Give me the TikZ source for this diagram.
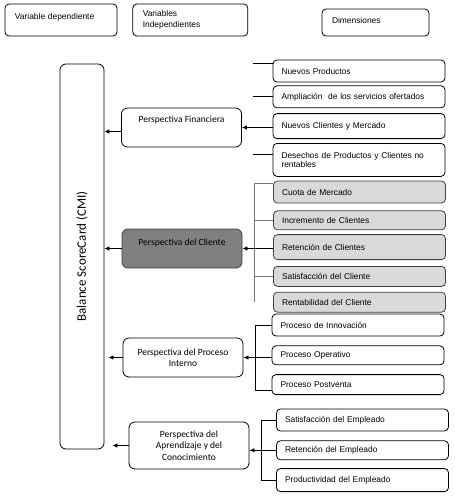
\documentclass[tikz,border=0pt]{standalone}
\usepackage{graphicx}
\usepackage{fontspec}
\setmainfont{Liberation Sans}
\newfontfamily\calibri{Carlito}
\usetikzlibrary{positioning,arrows.meta}
\definecolor{darkfill}{HTML}{808080}
\definecolor{lightfill}{HTML}{D9D9D9}
\definecolor{darkline}{HTML}{404040}
\definecolor{barline}{HTML}{777777}

\begin{document}
\begin{tikzpicture}[x=1pt, y=1pt, line width=0.8pt,
    box/.style={draw, rounded corners=4pt, inner ysep=0pt},
    head node/.style={box, align=left, inner xsep=10pt, font=\fontsize{8.4}{11}\selectfont},
    dim node/.style={box, text width=155pt, align=left, inner xsep=8.5pt, font=\fontsize{8.4}{9.6}\selectfont},
    cli node/.style={dim node, fill=lightfill, draw=darkline},
    persp node/.style={box, rounded corners=6pt, minimum width=120pt, minimum height=39pt, align=center, font=\calibri\fontsize{9.5}{11.5}\selectfont},
    arr/.style={-{Latex[length=5pt,width=4.5pt]}}]

  \useasboundingbox (0,0) rectangle (455,-496);

  % headings
  \node[head node, text width=92pt, minimum height=32pt, text height=6pt, text depth=8pt] (vdep) at (61,-20) {Variable dependiente};
  \node[head node, text width=95pt, minimum height=32pt, right=15pt of vdep] (vind) {Variables\\Independientes};
  \node[head node, text width=87pt, minimum height=27pt, text height=6pt, text depth=5pt] (dims) at (375.5,-22.5) {Dimensiones};

  % dependent variable
  \node[box, rounded corners=6pt, inner sep=0pt, minimum width=44pt, minimum height=385pt] (bsc) at (82,-256.5)
    {\rotatebox{90}{\calibri\fontsize{13}{15}\selectfont Balance ScoreCard (CMI)}};

  % perspectives
  \node[persp node, text height=6pt, text depth=16pt] (fin) at (181.5,-127.5) {Perspectiva Financiera};
  \node[persp node, fill=darkfill, draw=darkline, text height=6pt, text depth=13pt] (cli) at (182,-248.5) {Perspectiva del Cliente};
  \node[persp node] (pro) at (183,-357.5) {Perspectiva del Proceso\\Interno};
  \node[persp node, minimum height=47pt] (apr) at (189,-445.5) {Perspectiva del\\Aprendizaje y del\\Conocimiento};

  % dimensions
  \node[dim node, minimum height=22pt] (np) at (359,-71) {Nuevos Productos};
  \node[dim node, minimum height=22pt, below=3pt of np] (amp) {Ampliación\ \ de los servicios ofertados};
  \node[dim node, minimum height=25pt, below=5pt of amp] (ncm) {Nuevos Clientes y Mercado};
  \node[dim node, minimum height=33pt, below=4pt of ncm] (des) {Desechos de Productos y Clientes no\\rentables};

  \node[cli node, minimum height=22pt] (cuo) at (359.5,-192) {Cuota de Mercado};
  \node[cli node, minimum height=19pt, below=7pt of cuo] (inc) {Incremento de Clientes};
  \node[cli node, minimum height=25pt, below=4pt of inc] (ret) {Retención de Clientes};
  \node[cli node, minimum height=20pt, below=6pt of ret] (sat) {Satisfacción del Cliente};
  \node[cli node, minimum height=20pt, below=5pt of sat] (ren) {Rentabilidad del Cliente};

  \node[dim node, minimum height=22pt] (inn) at (358,-325) {Proceso de Innovación};
  \node[dim node, minimum height=19pt, below=9pt of inn] (ope) {Proceso Operativo};
  \node[dim node, minimum height=20pt, below=9pt of ope] (pos) {Proceso Postventa};

  \node[dim node, minimum height=22pt] (sem) at (362.5,-420) {Satisfacción del Empleado};
  \node[dim node, minimum height=19pt, below=9pt of sem] (rem) {Retención del Empleado};
  \node[dim node, minimum height=23pt, below=8pt of rem] (pem) {Productividad del Empleado};

  \coordinate (fbar) at (253,0);
  \coordinate (cbar) at (254,0);
  \coordinate (pbar) at (255,0);
  \coordinate (lbar) at (261,0);

  % dimensions to perspectives
  \draw ([yshift=8pt]np.west) -- ([yshift=8pt]np.west -| fbar);
  \draw (amp.west) -- (amp.west -| fbar);
  \draw ([yshift=5.5pt]des.west) -- ([yshift=5.5pt]des.west -| fbar);

  \draw[barline] ([yshift=9pt]cuo.west) -| (ren.west -| cbar);
  \draw[barline] (inc.west) -- (inc.west -| cbar);
  \draw[barline] (sat.west) -- (sat.west -| cbar);

  \draw (inn.west) -| ([yshift=-6pt]pos.west -| pbar) -- ([yshift=-6pt]pos.west);
  \draw (sem.west) -| (pem.west -| lbar) -- (pem.west);

  \path (ncm.west |- fin.east) edge[arr] (fin.east)
        (ret.west |- cli.east) edge[arr] (cli.east)
        (ope.west |- pro.east) edge[arr] (pro.east)
        (rem.west) edge[arr] (rem.west -| apr.east);

  % perspectives to dependent variable
  \path ([yshift=-4pt]fin.west) edge[arr] ([yshift=-4pt]fin.west -| bsc.east)
        (cli.west) edge[arr] (cli.west -| bsc.east)
        (pro.west) edge[arr, shorten >=4pt] (pro.west -| bsc.east)
        (apr.west) edge[arr, shorten >=8pt] (apr.west -| bsc.east);
\end{tikzpicture}
\end{document}
